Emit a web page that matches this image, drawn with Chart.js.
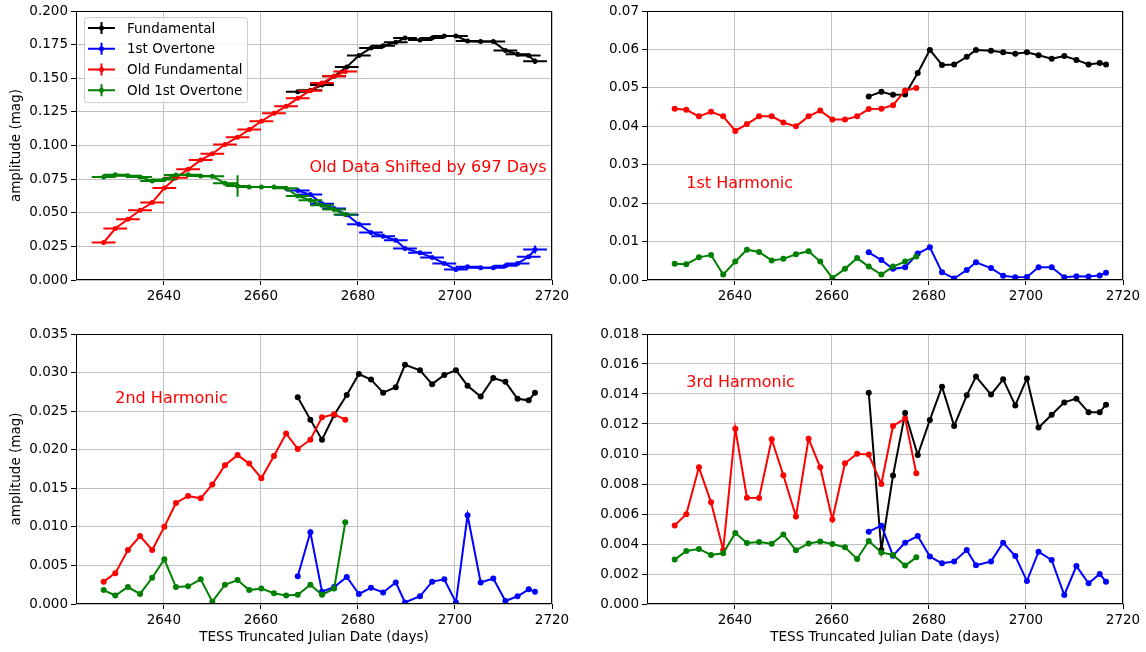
<!DOCTYPE html>
<html>
<head>
<meta charset="utf-8">
<script src="https://cdn.jsdelivr.net/npm/chart.js@4"></script>
<style>
body { margin: 0; background: #fff; width: 1146px; height: 652px; overflow: hidden; position: relative; }
canvas { position: absolute; }
</style>
</head>
<body>
<canvas id="fundChart" width="573" height="320" style="left:0;top:0"></canvas>
<canvas id="h1Chart" width="573" height="320" style="left:573px;top:0"></canvas>
<canvas id="h2Chart" width="573" height="332" style="left:0;top:320px"></canvas>
<canvas id="h3Chart" width="573" height="332" style="left:573px;top:320px"></canvas>
<script>
// Days (TESS TJD); old data already shifted by 697 days
const newDays = [2667.6, 2670.2, 2672.6, 2675.1, 2677.7, 2680.2, 2682.7, 2685.2, 2687.8, 2689.7, 2692.8,
                 2695.3, 2697.8, 2700.2, 2702.6, 2705.3, 2707.9, 2710.4, 2712.9, 2715.2, 2716.5];
const oldDays = [2627.6, 2630.0, 2632.6, 2635.1, 2637.6, 2640.1, 2642.5, 2645.0, 2647.6, 2650.0, 2652.6,
                 2655.2, 2657.6, 2660.1, 2662.7, 2665.2, 2667.6, 2670.2, 2672.6, 2675.1, 2677.4];
const xTicks = [2640, 2660, 2680, 2700, 2720];
const seriesNames = ['Fundamental', '1st Overtone', 'Old Fundamental', 'Old 1st Overtone'];

// Fundamental amplitudes (mag) with errors
const fundAmp = [0.1400, 0.1412, 0.1450, 0.1515, 0.1585, 0.1669, 0.1726, 0.1743, 0.1768, 0.1800, 0.1785,
                 0.1800, 0.1815, 0.1815, 0.1778, 0.1773, 0.1773, 0.1707, 0.1679, 0.1669, 0.1627];
const fundErr = [0.001, 0.001, 0.001, 0.001, 0.001, 0.001, 0.001, 0.001, 0.001, 0.001, 0.001,
                 0.001, 0.001, 0.001, 0.001, 0.001, 0.001, 0.001, 0.001, 0.0012, 0.002];
const overAmp = [0.0665, 0.0635, 0.0568, 0.0531, 0.0486, 0.0415, 0.0353, 0.0326, 0.0296, 0.0235, 0.0202,
                 0.0168, 0.0123, 0.0079, 0.0099, 0.0091, 0.0091, 0.0106, 0.0123, 0.0173, 0.0227];
const overErr = [0.001, 0.001, 0.001, 0.001, 0.001, 0.001, 0.001, 0.001, 0.001, 0.001, 0.001,
                 0.001, 0.001, 0.001, 0.001, 0.001, 0.001, 0.001, 0.001, 0.0015, 0.003];
const oldFundAmp = [0.0279, 0.0383, 0.0452, 0.0519, 0.0576, 0.0684, 0.0761, 0.0823, 0.0892, 0.0939, 0.1008,
                    0.1062, 0.1119, 0.1181, 0.1240, 0.1292, 0.1351, 0.1408, 0.1465, 0.1515, 0.1550];
const oldFundErr = [0.001, 0.001, 0.001, 0.001, 0.001, 0.001, 0.001, 0.001, 0.001, 0.001, 0.001,
                    0.001, 0.001, 0.001, 0.001, 0.001, 0.001, 0.001, 0.001, 0.001, 0.001];
const oldOverAmp = [0.0766, 0.0783, 0.0776, 0.0766, 0.0736, 0.0748, 0.0781, 0.0783, 0.0773, 0.0771, 0.0719,
                    0.0699, 0.0692, 0.0692, 0.0692, 0.0682, 0.0625, 0.0593, 0.0556, 0.0524, 0.0487];
const oldOverErr = [0.001, 0.001, 0.001, 0.001, 0.0015, 0.001, 0.001, 0.001, 0.001, 0.001, 0.001,
                    0.008, 0.001, 0.001, 0.001, 0.001, 0.001, 0.001, 0.001, 0.001, 0.001];
const dayErr = 2.45;

// 1st harmonic
const h1Fund = [0.0478, 0.0490, 0.0482, 0.0483, 0.0539, 0.0599, 0.0560, 0.0561, 0.0581, 0.0599, 0.0597,
                0.0593, 0.0589, 0.0593, 0.0585, 0.0576, 0.0583, 0.0573, 0.0561, 0.0565, 0.0561];
const h1Over = [0.0072, 0.0052, 0.0029, 0.0033, 0.0069, 0.0085, 0.0020, 0.0004, 0.0026, 0.0046, 0.0031,
                0.0011, 0.0007, 0.0008, 0.0033, 0.0033, 0.0007, 0.0010, 0.0009, 0.0012, 0.0019];
const h1OldFund = [0.0446, 0.0443, 0.0426, 0.0438, 0.0426, 0.0388, 0.0406, 0.0426, 0.0426, 0.0410, 0.0400,
                   0.0426, 0.0441, 0.0418, 0.0418, 0.0426, 0.0445, 0.0446, 0.0455, 0.0493, 0.0500];
const h1OldOver = [0.0042, 0.0041, 0.0059, 0.0065, 0.0014, 0.0048, 0.0079, 0.0073, 0.0051, 0.0055, 0.0067,
                   0.0075, 0.0048, 0.0005, 0.0029, 0.0057, 0.0035, 0.0014, 0.0035, 0.0048, 0.0061];

// 2nd harmonic
const h2Fund = [0.0268, 0.0239, 0.0213, 0.0245, 0.0271, 0.0298, 0.0291, 0.0274, 0.0281, 0.0310, 0.0303,
                0.0285, 0.0297, 0.0303, 0.0283, 0.0269, 0.0293, 0.0288, 0.0266, 0.0264, 0.0274];
const h2Over = [0.0036, 0.0093, 0.0016, 0.0022, 0.0035, 0.0013, 0.0021, 0.0015, 0.0028, 0.0002, 0.0010,
                0.0029, 0.0032, 0.0002, 0.0115, 0.0028, 0.0033, 0.0004, 0.0010, 0.0019, 0.0016];
const h2OldFund = [0.0029, 0.0040, 0.0070, 0.0088, 0.0070, 0.0100, 0.0131, 0.0140, 0.0137, 0.0155, 0.0180,
                   0.0193, 0.0182, 0.0163, 0.0192, 0.0221, 0.0201, 0.0213, 0.0242, 0.0246, 0.0239];
const h2OldOver = [0.0018, 0.0011, 0.0022, 0.0013, 0.0034, 0.0058, 0.0022, 0.0023, 0.0032, 0.0003, 0.0025,
                   0.0031, 0.0018, 0.0020, 0.0014, 0.0011, 0.0012, 0.0025, 0.0012, 0.0020, 0.0106];

// 3rd harmonic
const h3Fund = [0.01409, 0.00360, 0.00856, 0.01273, 0.00993, 0.01227, 0.01449, 0.01187, 0.01391, 0.01516, 0.01396,
                0.01498, 0.01324, 0.01504, 0.01176, 0.01262, 0.01344, 0.01369, 0.01278, 0.01278, 0.01329];
const h3Over = [0.00482, 0.00522, 0.00322, 0.00409, 0.00453, 0.00316, 0.00271, 0.00284, 0.00360, 0.00258, 0.00284,
                0.00409, 0.00320, 0.00153, 0.00349, 0.00293, 0.00060, 0.00253, 0.00138, 0.00200, 0.00149];
const h3OldFund = [0.00524, 0.00598, 0.00911, 0.00678, 0.00360, 0.01169, 0.00709, 0.00707, 0.01098, 0.00858, 0.00584,
                   0.01102, 0.00911, 0.00564, 0.00938, 0.01002, 0.00996, 0.00800, 0.01187, 0.01236, 0.00871];
const h3OldOver = [0.00296, 0.00353, 0.00367, 0.00327, 0.00338, 0.00473, 0.00407, 0.00413, 0.00402, 0.00464, 0.00358,
                   0.00404, 0.00416, 0.00400, 0.00378, 0.00300, 0.00420, 0.00344, 0.00327, 0.00256, 0.00311];

const fundTicks = [0, 0.025, 0.05, 0.075, 0.1, 0.125, 0.15, 0.175, 0.2];
const h1Ticks = [0, 0.01, 0.02, 0.03, 0.04, 0.05, 0.06, 0.07];
const h2Ticks = [0, 0.005, 0.01, 0.015, 0.02, 0.025, 0.03, 0.035];
const h3Ticks = [0, 0.002, 0.004, 0.006, 0.008, 0.01, 0.012, 0.014, 0.016, 0.018];

const colors = ['#000000', '#0000ff', '#ff0000', '#008000'];
const FONT = '"DejaVu Sans", sans-serif';
Chart.defaults.font.family = FONT;
Chart.defaults.font.size = 13.5;
Chart.defaults.color = '#000';

function toPoints(days, values) {
    return days.map((d, i) => ({ x: d, y: values[i] }));
}

function makeSets(series, radius, errs) {
    const dayList = [newDays, newDays, oldDays, oldDays];
    return series.map((vals, i) => ({
        label: seriesNames[i],
        data: toPoints(dayList[i], vals),
        borderColor: colors[i],
        backgroundColor: colors[i],
        borderWidth: 2,
        pointRadius: radius,
        pointBorderWidth: 0,
        pointHoverRadius: radius,
        tension: 0,
        order: 4 - i,
        yErr: errs ? errs[i] : null
    }));
}

// horizontal + vertical error bars, drawn just under each dataset's line
const errorBars = {
    id: 'errorBars',
    beforeDatasetDraw(chart, args) {
        const ds = chart.data.datasets[args.index];
        if (!ds.yErr) return;
        const ctx = chart.ctx, xs = chart.scales.x, ys = chart.scales.y, a = chart.chartArea;
        ctx.save();
        ctx.beginPath();
        ctx.rect(a.left, a.top, a.width, a.height);
        ctx.clip();
        ctx.strokeStyle = ds.borderColor;
        ctx.lineWidth = 2;
        ctx.beginPath();
        ds.data.forEach((p, i) => {
            const px = xs.getPixelForValue(p.x), py = ys.getPixelForValue(p.y);
            ctx.moveTo(xs.getPixelForValue(p.x - dayErr), py);
            ctx.lineTo(xs.getPixelForValue(p.x + dayErr), py);
            ctx.moveTo(px, ys.getPixelForValue(p.y - ds.yErr[i]));
            ctx.lineTo(px, ys.getPixelForValue(p.y + ds.yErr[i]));
        });
        ctx.stroke();
        ctx.restore();
    }
};

// frame, red notes and the errorbar legend
const decor = {
    id: 'decor',
    afterDraw(chart, args, opts) {
        const ctx = chart.ctx, a = chart.chartArea;
        ctx.save();
        ctx.strokeStyle = '#000';
        ctx.lineWidth = 1;
        ctx.strokeRect(Math.round(a.left) + 0.5, Math.round(a.top) + 0.5, Math.round(a.width) - 1, Math.round(a.height) - 1);
        if (opts.note) {
            ctx.fillStyle = '#ff0000';
            ctx.font = '16px ' + FONT;
            ctx.textBaseline = 'alphabetic';
            ctx.fillText(opts.note.text, chart.scales.x.getPixelForValue(opts.note.x), chart.scales.y.getPixelForValue(opts.note.y));
        }
        if (opts.legend) {
            const bx = a.left + 8, by = a.top + 6, bw = 163, bh = 85;
            ctx.fillStyle = 'rgba(255,255,255,0.8)';
            ctx.strokeStyle = '#cccccc';
            ctx.beginPath();
            ctx.roundRect(bx + 0.5, by + 0.5, bw, bh, 3);
            ctx.fill();
            ctx.stroke();
            ctx.font = '13.5px ' + FONT;
            ctx.textBaseline = 'middle';
            seriesNames.forEach((name, i) => {
                const y = by + 11 + i * 20.7;
                const x0 = bx + 4, x1 = bx + 31, xc = (x0 + x1) / 2;
                ctx.strokeStyle = colors[i];
                ctx.lineWidth = 2;
                ctx.beginPath();
                ctx.moveTo(x0, y); ctx.lineTo(x1, y);
                ctx.moveTo(xc, y - 6); ctx.lineTo(xc, y + 6);
                ctx.stroke();
                ctx.fillStyle = colors[i];
                ctx.beginPath();
                ctx.arc(xc, y, 2.5, 0, Math.PI * 2);
                ctx.fill();
                ctx.fillStyle = '#000';
                ctx.fillText(name, bx + 43, y + 1);
            });
        }
        ctx.restore();
    }
};

function makeChart(id, sets, o) {
    return new Chart(document.getElementById(id), {
        type: 'line',
        data: { datasets: sets },
        options: {
            responsive: false,
            animation: false,
            devicePixelRatio: 1,
            layout: { padding: o.padding },
            plugins: {
                legend: { display: false },
                tooltip: { enabled: false },
                decor: { note: o.note, legend: o.legend }
            },
            scales: {
                x: {
                    type: 'linear',
                    min: 2621.9,
                    max: 2720,
                    afterBuildTicks: s => { s.ticks = xTicks.map(v => ({ value: v })); },
                    afterFit: s => { s.height = o.xHeight; },
                    grid: { color: '#c0c0c0', lineWidth: 1, tickLength: 5, tickColor: '#000' },
                    border: { display: false },
                    ticks: { padding: 3, maxRotation: 0, callback: v => String(v) },
                    title: { display: !!o.xTitle, text: 'TESS Truncated Julian Date (days)', padding: { top: 0, bottom: 6 } }
                },
                y: {
                    type: 'linear',
                    min: 0,
                    max: o.yTicks[o.yTicks.length - 1],
                    afterBuildTicks: s => { s.ticks = o.yTicks.map(v => ({ value: v })); },
                    afterFit: s => { s.width = o.yWidth; },
                    grid: { color: '#c0c0c0', lineWidth: 1, tickLength: 5, tickColor: '#000' },
                    border: { display: false },
                    ticks: { padding: 3, callback: v => v.toFixed(o.digits) },
                    title: { display: !!o.yTitle, text: 'amplitude (mag)', padding: { top: 8, bottom: 0 } }
                }
            }
        },
        plugins: [errorBars, decor]
    });
}

makeChart('fundChart',
    makeSets([fundAmp, overAmp, oldFundAmp, oldOverAmp], 2.5, [fundErr, overErr, oldFundErr, oldOverErr]),
    { padding: { top: 10, right: 21, left: 0, bottom: 0 }, yWidth: 76, xHeight: 40, yTicks: fundTicks, digits: 3,
      yTitle: true, legend: true, note: { text: 'Old Data Shifted by 697 Days', x: 2670, y: 0.08 } });

makeChart('h1Chart',
    makeSets([h1Fund, h1Over, h1OldFund, h1OldOver], 3),
    { padding: { top: 10, right: 23, left: 0, bottom: 0 }, yWidth: 74, xHeight: 40, yTicks: h1Ticks, digits: 2,
      note: { text: '1st Harmonic', x: 2630, y: 0.024 } });

makeChart('h2Chart',
    makeSets([h2Fund, h2Over, h2OldFund, h2OldOver], 3),
    { padding: { top: 14, right: 21, left: 0, bottom: 0 }, yWidth: 76, xHeight: 48, yTicks: h2Ticks, digits: 3,
      yTitle: true, xTitle: true, note: { text: '2nd Harmonic', x: 2630, y: 0.026 } });

makeChart('h3Chart',
    makeSets([h3Fund, h3Over, h3OldFund, h3OldOver], 3),
    { padding: { top: 14, right: 23, left: 0, bottom: 0 }, yWidth: 74, xHeight: 48, yTicks: h3Ticks, digits: 3,
      xTitle: true, note: { text: '3rd Harmonic', x: 2630, y: 0.0145 } });
</script>
</body>
</html>
